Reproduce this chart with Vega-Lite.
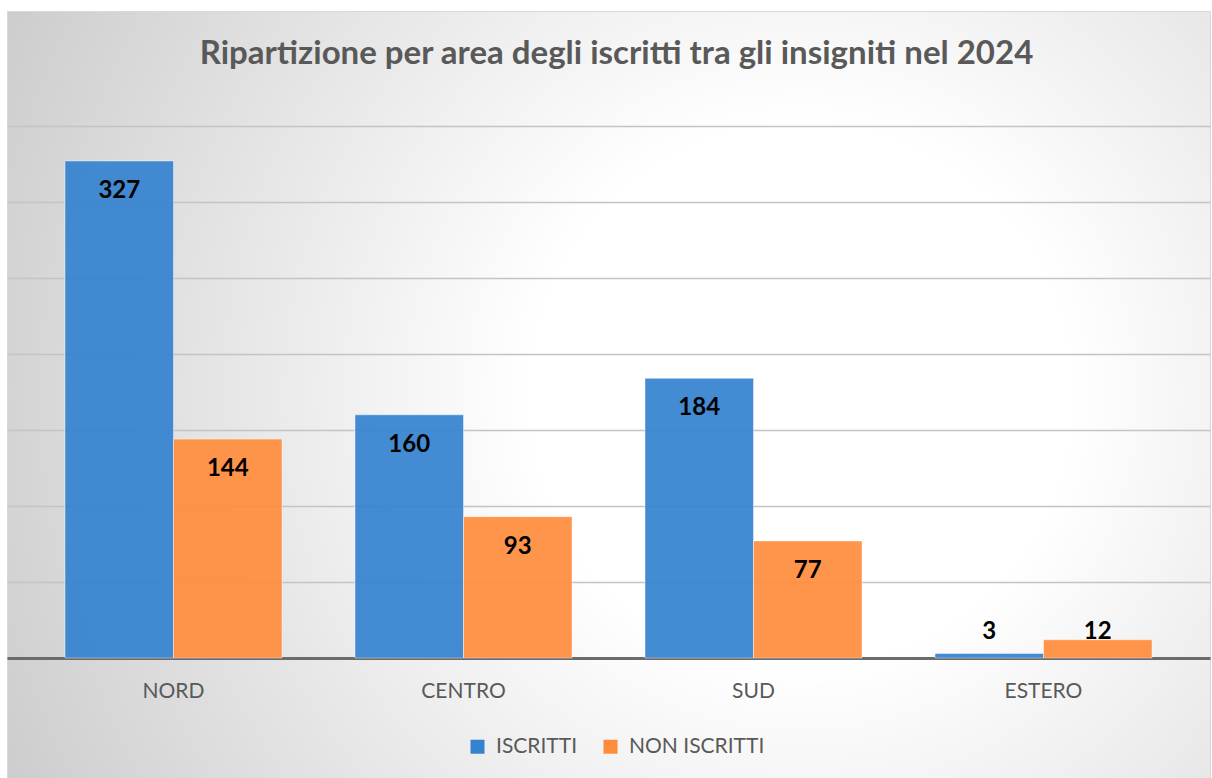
{
  "$schema": "https://vega.github.io/schema/vega-lite/v6.json",
  "autosize": "none",
  "padding": {"left": 7, "top": 11, "right": 2, "bottom": 0},
  "width": 1203,
  "height": 767,
  "background": "#ffffff",
  "view": {
    "fill": {"gradient": "radial", "x1": 0.66, "y1": 0.5, "r1": 0, "x2": 0.66, "y2": 0.5, "r2": 0.8,
      "stops": [{"offset": 0, "color": "#ffffff"}, {"offset": 0.28, "color": "#ffffff"}, {"offset": 1, "color": "#c6c6c6"}]},
    "stroke": "#d9d9d9",
    "strokeWidth": 1
  },
  "title": {
    "text": "Ripartizione per area degli iscritti tra gli insigniti nel 2024",
    "font": "Lato",
    "fontSize": 33,
    "fontWeight": "bold",
    "color": "#595959",
    "anchor": "middle",
    "baseline": "alphabetic",
    "offset": -86,
    "dx": 8
  },
  "data": {
    "values": [
      {"area": "NORD", "gruppo": "ISCRITTI", "valore": 327},
      {"area": "NORD", "gruppo": "NON ISCRITTI", "valore": 144},
      {"area": "CENTRO", "gruppo": "ISCRITTI", "valore": 160},
      {"area": "CENTRO", "gruppo": "NON ISCRITTI", "valore": 93},
      {"area": "SUD", "gruppo": "ISCRITTI", "valore": 184},
      {"area": "SUD", "gruppo": "NON ISCRITTI", "valore": 77},
      {"area": "ESTERO", "gruppo": "ISCRITTI", "valore": 3},
      {"area": "ESTERO", "gruppo": "NON ISCRITTI", "valore": 12}
    ]
  },
  "transform": [
    {"joinaggregate": [{"op": "max", "field": "valore", "as": "maxarea"}], "groupby": ["area"]}
  ],
  "encoding": {
    "x": {
      "field": "area", "type": "nominal", "sort": ["NORD", "CENTRO", "SUD", "ESTERO"],
      "scale": {"paddingInner": 0.2517, "paddingOuter": 0.2, "align": 0.5},
      "axis": {
        "title": null, "orient": "bottom", "offset": -120, "labelAngle": 0,
        "labelFont": "Lato", "labelFontSize": 21, "labelColor": "#595959",
        "labelPadding": 22, "ticks": false,
        "domain": true, "domainColor": "#6b6b6b", "domainWidth": 3, "grid": false
      }
    },
    "xOffset": {
      "field": "gruppo", "type": "nominal", "sort": ["ISCRITTI", "NON ISCRITTI"],
      "scale": {"paddingInner": 0, "paddingOuter": 0}
    }
  },
  "layer": [
    {
      "mark": {"type": "bar", "stroke": "#ffffff", "strokeOpacity": 0.45, "strokeWidth": 1, "fillOpacity": 0.93},
      "encoding": {
        "y": {
          "field": "valore", "type": "quantitative", "stack": null,
          "scale": {"domain": [-78.95, 425.66], "nice": false, "zero": false},
          "axis": {
            "title": null, "labels": false, "ticks": false, "domain": false,
            "values": [50, 100, 150, 200, 250, 300, 350],
            "grid": true, "gridColor": "#c4c4c4", "gridWidth": 1.3
          }
        },
        "y2": {"datum": 0},
        "color": {
          "field": "gruppo", "type": "nominal",
          "scale": {"domain": ["ISCRITTI", "NON ISCRITTI"], "range": ["#3582cf", "#ff8c3d"]},
          "legend": {
            "title": null, "orient": "none", "legendX": 460, "legendY": 725,
            "direction": "horizontal", "symbolType": "square", "symbolSize": 196,
            "symbolStrokeWidth": 0, "labelFont": "Lato", "labelFontSize": 21,
            "labelColor": "#595959", "labelOffset": 8, "columnPadding": 22
          }
        }
      }
    },
    {
      "transform": [{"filter": "datum.maxarea >= 20"}],
      "mark": {"type": "text", "font": "Lato", "fontSize": 24, "fontWeight": "bold", "color": "#000000", "baseline": "alphabetic", "dy": 37},
      "encoding": {
        "y": {"field": "valore", "type": "quantitative", "scale": {"domain": [-78.95, 425.66], "nice": false, "zero": false}},
        "text": {"field": "valore", "type": "quantitative"}
      }
    },
    {
      "transform": [{"filter": "datum.maxarea < 20"}],
      "mark": {"type": "text", "font": "Lato", "fontSize": 24, "fontWeight": "bold", "color": "#000000", "baseline": "alphabetic", "dy": -1},
      "encoding": {
        "y": {"field": "maxarea", "type": "quantitative", "scale": {"domain": [-78.95, 425.66], "nice": false, "zero": false}},
        "text": {"field": "valore", "type": "quantitative"}
      }
    }
  ]
}
